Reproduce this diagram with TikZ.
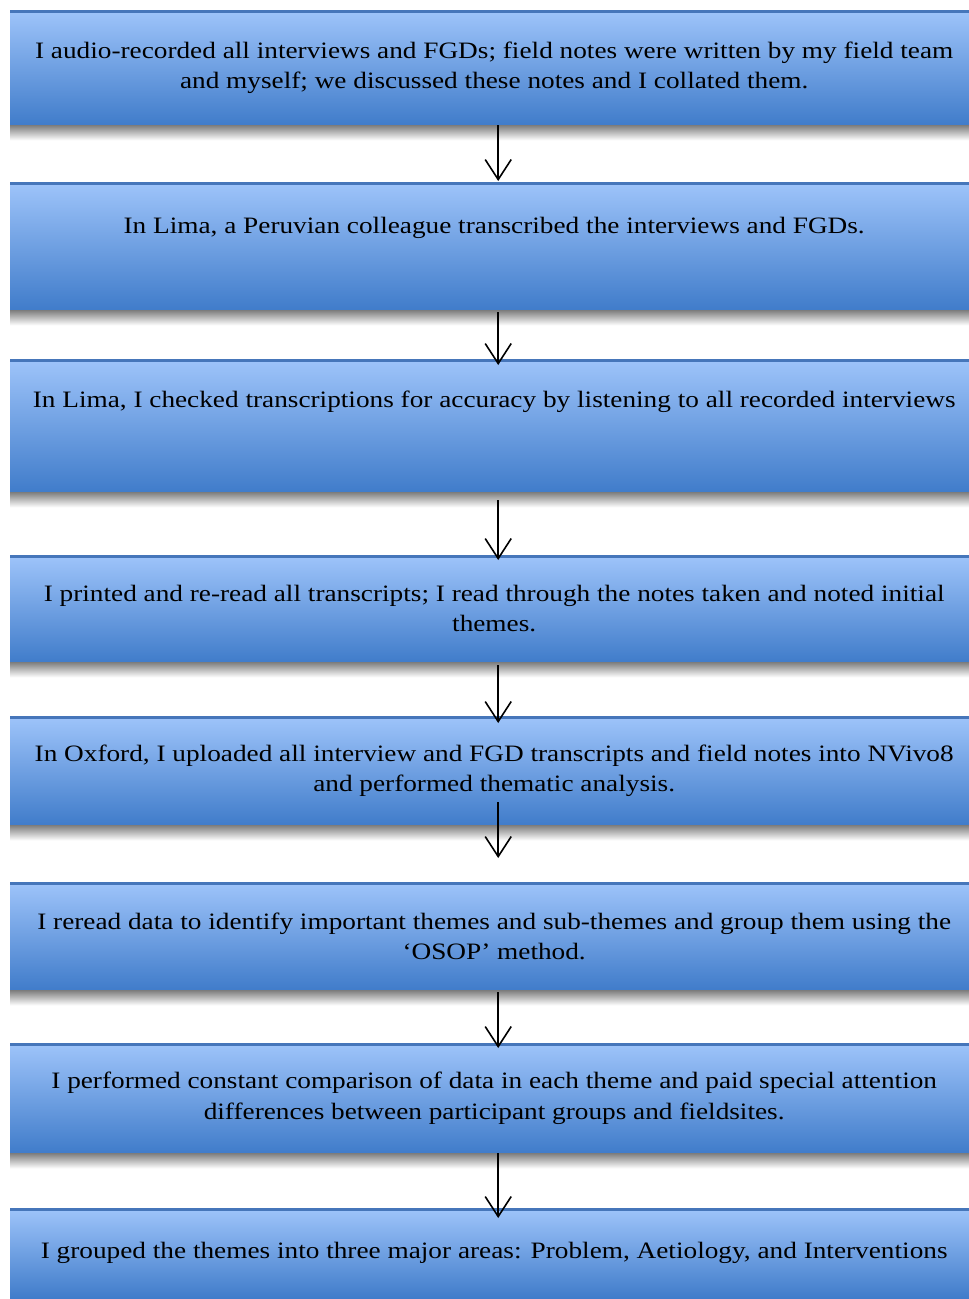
\documentclass[tikz,border=0pt]{standalone}
\usepackage{fontspec}
\setmainfont{Liberation Serif}[FakeStretch=1.16]
\usepackage{tikz}
\usetikzlibrary{arrows.meta, positioning}
\definecolor{boxtop}{RGB}{158,196,250}
\definecolor{boxbottom}{RGB}{64,124,202}
\definecolor{boxedge}{RGB}{70,118,186}

\begin{document}
\begin{tikzpicture}[x=1pt, y=1pt,
  stepbox/.style={anchor=north west, minimum width=968pt, inner sep=0pt, align=center,
    top color=boxtop, bottom color=boxbottom, font=\fontsize{23.5}{30.5}\selectfont,
    path picture={\draw[boxedge, line width=5pt] (path picture bounding box.north west) -- (path picture bounding box.north east);}},
  flow/.style={line width=1.6pt, -{Straight Barb[length=20pt, width=26pt, line width=1.6pt]}}]
  \useasboundingbox (0,0) rectangle (969,-1299);
  \node[stepbox, minimum height=115pt] (b1) at (10,-10) {I audio-recorded all interviews and FGDs; field notes were written by my field team\\and myself; we discussed these notes and I collated them.};
  \node[stepbox, minimum height=128pt] (b2) at (10,-182) {In Lima, a Peruvian colleague transcribed the interviews and FGDs.\\[10.5pt]\mbox{}};
  \node[stepbox, minimum height=133pt] (b3) at (10,-359) {In Lima, I checked transcriptions for accuracy by listening to all recorded interviews\\[21.5pt]\mbox{}};
  \node[stepbox, minimum height=107pt] (b4) at (10,-555) {I printed and re-read all transcripts; I read through the notes taken and noted initial\\themes.};
  \node[stepbox, minimum height=109pt] (b5) at (10,-716) {In Oxford, I uploaded all interview and FGD transcripts and field notes into NVivo8\\and performed thematic analysis.};
  \node[stepbox, minimum height=108pt] (b6) at (10,-882) {I reread data to identify important themes and sub-themes and group them using the\\‘OSOP’ method.};
  \node[stepbox, minimum height=110pt] (b7) at (10,-1043) {I performed constant comparison of data in each theme and paid special attention\\differences between participant groups and fieldsites.};
  \node[stepbox, minimum height=90pt] (b8) at (10,-1208) {I grouped the themes into three major areas: Problem, Aetiology, and Interventions};

  \foreach \i in {1,...,7}
    \shade[top color=black!50, bottom color=white] (b\i.south west) rectangle ([yshift=-15pt]b\i.south east);

  \foreach \a/\b/\s/\e in {b1/b2/0/1, b2/b3/-2/-6, b3/b4/-8/-5, b4/b5/-3/-7, b5/b6/23/24, b6/b7/-2/-5, b7/b8/0/-10}
    \draw[flow] ([xshift=4pt, yshift=\s pt]\a.south) -- ([xshift=4pt, yshift=\e pt]\b.north);
\end{tikzpicture}
\end{document}
